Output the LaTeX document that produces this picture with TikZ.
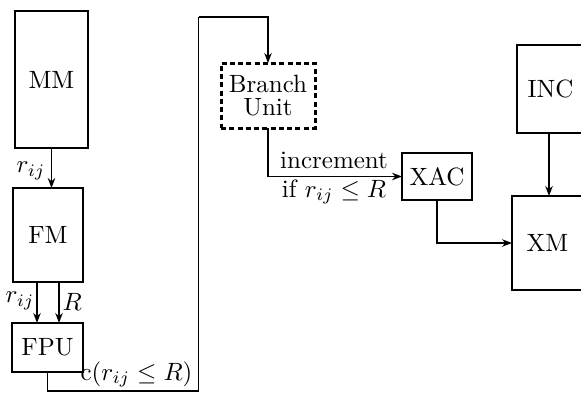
\documentclass[tikz,border=0pt]{standalone}
\usetikzlibrary{arrows.meta}
\begin{document}
\begin{tikzpicture}[x=0.4pt,y=-0.4pt,
  blk/.style={draw,line width=1pt,inner sep=0pt,outer sep=0pt},
  dotblk/.style={draw,line width=1.2pt,dash pattern=on 2pt off 1.3pt,inner sep=0pt,outer sep=0pt,align=center},
  conn/.style={line width=0.55pt},
  arr/.style={conn,-{Stealth[length=4pt,width=3pt]}},
  lbl/.style={inner sep=0pt}]
\useasboundingbox (0,0) rectangle (581,394);
\clip (0,0) rectangle (581,394);
% blocks
\node[blk,minimum width=29.2pt,minimum height=54.8pt] (MM) at (51.5,79.5) {MM};
\node[blk,minimum width=28pt,minimum height=37.6pt] (FM) at (48,235) {FM};
\node[blk,minimum width=28.4pt,minimum height=19.6pt] (FPU) at (47.5,347.5) {FPU};
\node[dotblk,minimum width=37.6pt,minimum height=26pt] (BU) at (268,95.5) {Branch\\[-3pt]Unit};
\node[blk,minimum width=28pt,minimum height=18.8pt] (XAC) at (437,176.5) {XAC};
\node[blk,minimum width=27.2pt,minimum height=35.2pt] (INC) at (551,89) {};
\node[lbl,anchor=west] (INCt) at (527,89) {INC};
\node[blk,minimum width=29.2pt,minimum height=37.6pt] (XM) at (548.5,243) {};
\node[lbl,anchor=west] (XMt) at (526,243) {XM};
% coordinates
\coordinate (fa) at (37,282);
\coordinate (fb) at (59,282);
\coordinate (c2) at (198.5,391);
\coordinate (c3) at (198.5,17);
% connectors
\draw[arr] (MM.south) -- (MM.south |- FM.north);
\draw[arr] (fa) -- (fa |- FPU.north);
\draw[arr] (fb) -- (fb |- FPU.north);
\draw[conn] (FPU.south) |- (c2) -- (c3);
\draw[arr] (c3) -| (BU.north);
\draw[arr] (BU.south) |- (XAC.west);
\draw[arr] (XAC.south) |- (XM.west);
\draw[arr] (INC.south -| 549,0) -- (XM.north -| 549,0);
% labels
\node[lbl,anchor=east] (l1) at (46,171) {$r_{ij}$};
\node[lbl,anchor=east] (l2) at (35,301) {$r_{ij}$};
\node[lbl,anchor=west] (l3) at (62,302) {$R$};
\node[lbl,anchor=base west] (l4) at (80,380) {c$(r_{ij}\leq R)$};
\node[lbl,anchor=base] (l5) at (334,168) {increment};
\node[lbl,anchor=base] (l6) at (334,197) {if $r_{ij}\leq R$};
\end{tikzpicture}
\end{document}
